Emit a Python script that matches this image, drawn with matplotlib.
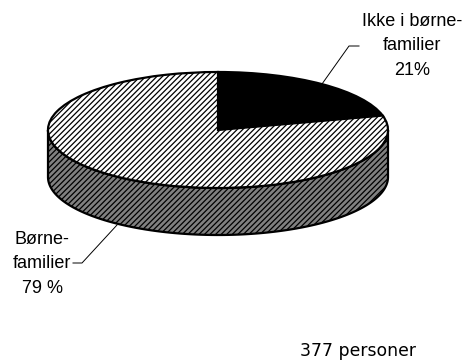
import numpy as np
import matplotlib
matplotlib.use('Agg')
import matplotlib.pyplot as plt
from matplotlib.patches import Polygon

# Andele i procent
labels = ['Ikke i børne-\nfamilier\n21%', 'Børne-\nfamilier\n79 %']
shares = [21, 79]
note = '377 personer'

W, H = 465, 363
CX, CY, RX, RY = 218, 130, 170, 58  # ellipse i pixels
DEPTH = 47 / RY

plt.rcParams['hatch.linewidth'] = 0.9

fig = plt.figure(figsize=(W / 100, H / 100), dpi=100)
ax = fig.add_axes([0, 0, 1, 1])

# siden af kagen
t = np.linspace(np.pi, 2 * np.pi, 200)
top = np.column_stack([np.cos(t), np.sin(t)])
bottom = (top - [0, DEPTH])[::-1]
ax.add_patch(Polygon(np.vstack([top, bottom]), closed=True, facecolor='#808080',
                     edgecolor='black', hatch='//////', linewidth=1.6, zorder=1))

wedges, _ = ax.pie(shares, colors=['black', 'white'], startangle=90, counterclock=False,
                   wedgeprops={'edgecolor': 'black', 'linewidth': 1.6, 'zorder': 2})
wedges[1].set_hatch('//////')

# pie saetter aspect=equal, ellipsen skal vaere fladtrykt
ax.set_aspect('auto')
ax.set_xlim(-CX / RX, (W - CX) / RX)
ax.set_ylim((CY - H) / RY, CY / RY)
ax.axis('off')


def px(x, y):
    return (x - CX) / RX, (CY - y) / RY


# forbindelseslinjer
for pts in ([(322, 84), (349, 46), (359, 46)], [(117, 225), (82, 263), (73, 263)]):
    xs, ys = zip(*[px(*p) for p in pts])
    ax.plot(xs, ys, color='black', lw=0.7, zorder=3)

font = {'family': 'Liberation Sans', 'fontsize': 13, 'ha': 'center', 'va': 'center',
        'linespacing': 1.6}
ax.text(*px(412, 46), labels[0], **font)
ax.text(*px(42, 264), labels[1], **font)
ax.text(*px(358, 351), note, family='DejaVu Sans', fontsize=12.4, ha='center', va='center')

fig.savefig('out.png', dpi=100)
